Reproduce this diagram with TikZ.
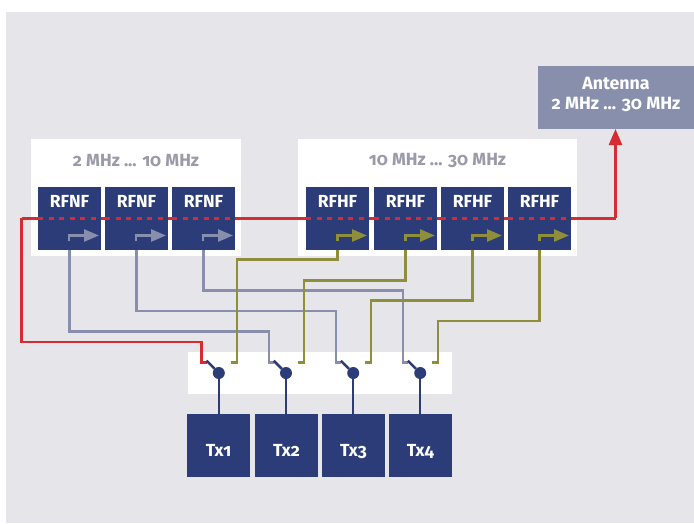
\documentclass[tikz,border=0pt]{standalone}
\usepackage{fontspec}
\setmainfont[Numbers=OldStyle]{Fira Sans}
\usetikzlibrary{arrows.meta}
\definecolor{ColorBack}{HTML}{E6E5EA}
\definecolor{ColorNavy}{HTML}{2B3C78}
\definecolor{ColorSteel}{HTML}{878FAD}
\definecolor{ColorOlive}{HTML}{8F8E3A}
\definecolor{ColorRed}{HTML}{D62B30}
\definecolor{ColorLabel}{HTML}{9A9AA8}
\tikzset{
    panel/.style={fill=white, draw=none, inner sep=0pt, outer sep=0pt},
    bandlabel/.style={text=ColorLabel, font=\fontsize{17.6}{20}\selectfont\bfseries},
    rfbox/.style={fill=ColorNavy, text=white, minimum width=63pt, minimum height=63pt, inner sep=0pt, outer sep=0pt, text height=20pt, text depth=43pt, font=\fontsize{17.5}{20}\selectfont\bfseries},
    txbox/.style={fill=ColorNavy, text=white, minimum width=63pt, minimum height=63pt, inner sep=0pt, outer sep=0pt, text height=42pt, text depth=21pt, font=\fontsize{17.5}{20}\selectfont\bfseries},
    antbox/.style={fill=ColorSteel, text=white, minimum width=156pt, minimum height=63pt, inner sep=0pt, outer sep=0pt, align=center, font=\fontsize{17.8}{20}\selectfont\bfseries},
    rfwire/.style={ColorRed, line width=2.5pt},
    rfdash/.style={ColorRed, line width=2.5pt, dash pattern=on 5pt off 5.6pt},
    nfwire/.style={ColorSteel, line width=2.5pt},
    hfwire/.style={ColorOlive, line width=2.5pt},
    nfglyph/.style={nfwire, -{Triangle[length=15pt, width=12pt]}},
    hfglyph/.style={hfwire, -{Triangle[length=15pt, width=12pt]}},
    swwire/.style={ColorNavy, line width=2.5pt},
    swdot/.style={circle, fill=ColorNavy, minimum size=12pt, inner sep=0pt, outer sep=0pt}
}
\begin{document}
\begin{tikzpicture}[x=1pt, y=-1pt]
    \useasboundingbox (0,0) rectangle (694,523);
    \fill[ColorBack] (6,12) rectangle (694,523);
    \node[panel, minimum width=210pt, minimum height=117pt] (panellow) at (136,197.5) {};
    \node[panel, minimum width=279pt, minimum height=117pt] (panelhigh) at (437.5,197.5) {};
    \node[panel, minimum width=264pt, minimum height=42pt] (panelsw) at (320,373) {};
    \node[bandlabel] (labellow) at (136,160.5) {2 MHz ... 10 MHz};
    \node[bandlabel] (labelhigh) at (437.5,160.5) {10 MHz ... 30 MHz};
    \node[antbox] (antenna) at (616,97.5) {Antenna\\2 MHz ... 30 MHz\\[-12pt]\mbox{}};

    \coordinate (redleft) at (21.5,218.3);
    \coordinate (redright) at (615.5,218.3);
    \draw[rfwire] (redleft) -- (redright);

    \foreach \x [count=\i] in {69.5,136.5,203.5} {
        \node[rfbox] (rfnf\i) at (\x,218.5) {RFNF};
        \draw[rfdash] (rfnf\i.west |- redleft) -- (rfnf\i.east |- redleft);
        \draw[nfglyph] (\x-0.5,241) -- (\x-0.5,235.5) -- (\x+29.5,235.5);
    }
    \foreach \x [count=\i] in {337.5,405.5,472.5,539.5} {
        \node[rfbox] (rfhf\i) at (\x,218.5) {RFHF};
        \draw[rfdash] (rfhf\i.west |- redleft) -- (rfhf\i.east |- redleft);
        \draw[hfglyph] (\x,241) -- (\x,235.5) -- (\x+29.5,235.5);
    }
    \foreach \x/\s/\t [count=\i] in {218.5/218.8/Tx1,286.5/286/Tx2,353.5/353.2/Tx3,420.5/420.2/Tx4} {
        \node[txbox] (tx\i) at (\x,445.5) {\t};
        \node[swdot] (sw\i) at (\s,373) {};
        \coordinate (arm\i) at (\s-12.3,360.7);
        \coordinate (in\i) at (\s-17.2,362.3);
        \coordinate (out\i) at (\s+18,362.3);
    }

    \draw[rfwire] (redleft) -- (21.5,342) -| (in1) -- (arm1 |- in1);
    \draw[rfwire, -{Triangle[length=16pt, width=13pt]}] (redright) -- (antenna.south -| redright);

    \draw[nfwire] (rfnf1.south) -- ++(0,81.7) -| (in2) -- (arm2 |- in2);
    \draw[nfwire] (rfnf2.south) -- ++(0,61) -| (in3) -- (arm3 |- in3);
    \draw[nfwire] (rfnf3.south) -- ++(0,40.3) -| (in4) -- (arm4 |- in4);

    \draw[hfwire] (rfhf1.south) -- ++(0,9.3) -| (out1) -- ++(-6,0);
    \draw[hfwire] (rfhf2.south) -- ++(0,30.3) -| (out2) -- ++(-6,0);
    \draw[hfwire] (rfhf3.south) -- ++(0,50.7) -| (out3) -- ++(-6,0);
    \draw[hfwire] (rfhf4.south) -- ++(0,71) -| (out4) -- ++(-6,0);

    \foreach \i in {1,2,3,4} {
        \draw[swwire] (sw\i) -- (tx\i.north -| sw\i);
        \draw[swwire] (sw\i) -- (arm\i);
    }
\end{tikzpicture}
\end{document}
